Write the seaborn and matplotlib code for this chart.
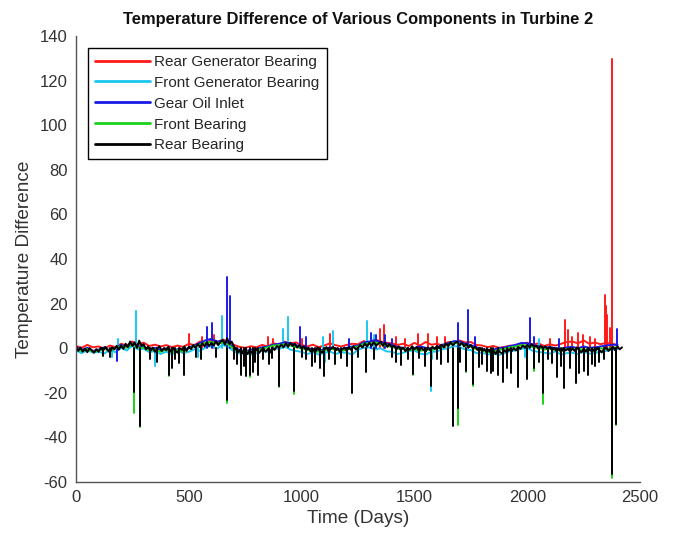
import matplotlib
matplotlib.use('Agg')
import matplotlib.pyplot as plt
from matplotlib.lines import Line2D
import numpy as np
import pandas as pd
import seaborn as sns

components = ['Rear Generator Bearing', 'Front Generator Bearing', 'Gear Oil Inlet',
              'Front Bearing', 'Rear Bearing']
line_colors = ['#ff1a1a', '#19c8f0', '#1a1ae6', '#19d219', '#000000']

# baseline readings: every 25 days for the coloured lines, every 10 days for the rear bearing
coarse_days = np.arange(0, 2401, 25)
fine_days = np.arange(0, 2421, 10)

rear_gen_base = [1.0, 0.2, 1.5, 0.4, 0.8, -0.2, 1.2, 0.5,
                 2.0, 1.2, 3.0, 1.8, 2.5, 1.0, 1.6, 0.8,
                 1.4, 0.5, 1.2, 0.6, 2.0, 1.4, 3.0, 2.0,
                 3.8, 2.5, 4.0, 2.8, 1.5, 0.6, 0.2, 0.9,
                 0.4, 1.5, 0.8, 2.2, 1.6, 3.0, 2.2, 2.6,
                 1.5, 0.8, 1.6, 0.5, 1.2, 2.2, 1.4, 0.8,
                 1.5, 2.0, 1.8, 3.2, 2.5, 4.0, 3.0, 2.5,
                 2.2, 1.5, 2.0, 1.0, 2.4, 1.2, 2.8, 1.6,
                 2.0, 1.2, 2.8, 2.0, 3.5, 2.6, 2.8, 1.5,
                 1.2, 0.5, 1.0, 0.2, 0.6, 1.2, 0.8, 2.0,
                 2.5, 1.6, 2.2, 1.0, 1.8, 1.2, 2.0, 2.8,
                 3.0, 2.2, 3.5, 2.0, 2.6, 1.8, 2.4, 2.0,
                 1.5]
front_gen_base = [-1.0, -2.2, -0.8, -2.0, -1.5, -2.4, -0.6, -1.8,
                  0.2, -1.0, 1.2, -0.5, -0.2, -1.8, -1.2, -2.6,
                  -1.5, -2.8, -1.2, -2.2, -1.6, -0.4, -1.2, 0.4,
                  1.0, -0.2, 1.6, 0.5, -1.4, -2.4, -1.8, -3.0,
                  -2.2, -1.0, -1.6, 0.2, -0.4, 0.8, -0.6, -1.2,
                  -1.6, -2.6, -1.8, -2.8, -2.2, -1.4, -2.6, -1.8,
                  -2.0, -2.8, -0.6, 0.2, 0.4, -0.6, 0.0, -1.4,
                  -1.6, -2.6, -2.0, -1.2, -1.0, -2.4, -2.8, -1.6,
                  -1.4, -0.4, 0.0, 1.0, 0.6, -0.6, -0.8, -2.2,
                  -2.0, -2.8, -2.4, -3.0, -2.2, -1.2, -1.0, -0.2,
                  0.2, -1.2, -1.6, -2.0, -2.4, -1.4, -2.8, -2.2,
                  -2.0, -2.6, -1.6, -2.4, -2.2, -1.4, -1.2, -0.6,
                  -0.5]
gear_oil_base = [0.6, -0.8, 0.2, -1.2, -0.6, 0.4, -1.0, 0.2,
                 1.5, 0.6, 2.2, 1.0, 0.6, -0.4, 0.2, -0.8,
                 0.0, -1.2, -0.4, -1.4, 0.4, 1.2, 2.4, 3.6,
                 4.2, 3.0, 3.4, 2.0, 0.5, -0.8, -1.4, -0.6,
                 -0.4, 0.4, 0.8, 1.6, 2.0, 2.6, 2.2, 1.4,
                 0.8, 0.0, -0.4, -1.0, -0.5, 0.4, 0.0, -0.6,
                 0.2, 0.8, 1.2, 2.6, 3.0, 3.6, 2.8, 2.2,
                 1.4, 0.6, 0.2, -0.4, 0.0, 0.8, 0.2, -0.2,
                 0.4, 1.6, 2.2, 3.2, 3.0, 2.0, 1.4, 0.4,
                 -0.4, -1.0, -0.6, 0.0, 0.4, 1.0, 1.6, 2.4,
                 2.2, 1.2, 1.0, 0.2, 0.6, 0.0, -0.4, 0.4,
                 0.6, 0.0, 0.8, 0.2, 0.4, 0.8, 1.2, 1.6,
                 1.5]
front_brg_base = [0.0, -1.4, -0.4, -1.6, -1.0, -0.2, -1.2, 0.0,
                  1.0, 0.2, 1.8, 0.4, 0.2, -1.0, -0.6, -1.6,
                  -0.6, -1.8, -0.8, -1.6, 0.0, 0.8, 1.6, 2.4,
                  2.8, 2.0, 2.6, 1.6, -0.4, -1.6, -1.2, -2.0,
                  -1.0, -0.2, 0.4, 1.2, 1.4, 1.8, 1.2, 0.6,
                  0.0, -0.8, -1.2, -1.6, -1.0, -0.2, -0.6, -1.2,
                  -0.6, 0.4, 0.8, 2.0, 2.2, 2.6, 2.0, 1.2,
                  0.6, -0.2, 0.0, -0.8, -0.4, -1.2, -0.6, -0.8,
                  -0.2, 0.8, 1.4, 2.4, 2.0, 1.2, 0.6, -0.4,
                  -1.0, -1.8, -1.4, -0.8, -0.2, 0.4, 0.8, 1.4,
                  1.2, 0.4, 0.2, -0.6, -0.2, -0.8, -1.0, -0.4,
                  -0.6, -0.2, -0.8, -0.4, -0.8, 0.0, -0.4, 0.2,
                  0.5]
rear_brg_base = [0.8, -1.2, 0.3, -1.5, -0.2, -1.8, 0.1, -1.0, -2.0, -0.4,
                 -1.6, 0.2, -1.1, 0.6, -0.8, -1.9, 0.4, -0.5, 1.0, -0.6,
                 1.2, -0.3, 2.0, 0.5, 3.0, 1.0, 2.6, 0.2, 3.4, 1.1,
                 1.8, -0.5, 0.8, -1.2, 0.3, -1.6, -0.2, 0.9, -1.3, 0.1,
                 -0.9, 0.7, -1.5, 0.2, -1.1, -2.0, 0.0, -0.7, 0.8, -1.2,
                 0.6, -0.4, 1.4, 0.2, 1.9, 0.4, 2.2, 0.8, 2.7, 1.0,
                 2.4, 1.2, 3.2, 1.4, 2.8, 3.8, 1.6, 4.5, 2.0, 3.0,
                 0.8, -0.6, -1.8, -0.4, -2.4, -1.0, -2.6, -0.8, -2.1, -1.4,
                 -0.3, -2.2, -1.0, 0.2, -1.6, -0.4, -2.0, 0.3, -0.8, 1.0,
                 0.2, 1.6, 0.4, 2.2, 0.6, 2.5, 1.0, 2.0, 0.3, 1.4,
                 -0.2, 0.9, -1.0, 0.2, -1.4, -0.3, -1.8, 0.4, -0.9, -2.0,
                 -0.6, 0.5, -1.5, -0.2, 0.6, -1.1, 0.1, -1.7, -0.4, 0.3,
                 -1.2, 0.4, -0.8, 0.9, -0.5, 0.2, 1.4, 0.3, 2.1, 0.8,
                 2.4, 1.0, 2.8, 1.2, 2.0, 3.0, 1.1, 2.5, 0.6, 1.8,
                 0.4, 1.2, -0.5, 0.8, -0.9, 0.3, -1.3, 0.1, -0.6, 0.9,
                 -0.4, 0.6, -1.2, 0.2, -0.7, -1.5, 0.3, -0.9, 0.7, -0.3,
                 1.0, 0.0, 1.6, 0.4, 2.2, 0.9, 2.8, 1.3, 2.4, 3.0,
                 1.2, 2.6, 0.8, 2.0, 0.4, 1.4, -0.2, 0.8, -0.8, 0.2,
                 -1.4, -0.3, -1.9, -0.6, -2.3, -1.0, -2.6, -0.7, -1.8, -2.4,
                 -0.9, -1.9, -0.4, -1.5, 0.1, -1.0, 0.6, -0.3, 1.2, 0.2,
                 1.5, 0.4, 1.9, 0.6, 1.2, -0.2, 1.0, 0.1, 0.8, -0.4,
                 0.5, -0.8, 0.2, -1.3, -0.3, -1.7, 0.1, -1.0, -0.2, -1.5,
                 0.0, -1.2, 0.4, -0.9, -1.8, -0.3, -1.4, 0.2, -1.1, -0.5,
                 -1.6, 0.1, -0.8, -1.9, -0.4, 0.3, -1.2, -0.2, 0.6, -0.9,
                 0.8, -0.5, 0.4]

# single-day excursions (day, difference)
rear_gen_spike_days = [500, 560, 610, 850, 873, 1000, 1126, 1346, 1365, 1420, 1460, 1514, 1562,
                       1600, 1637, 2100, 2167, 2180, 2200, 2225, 2249, 2280, 2300,
                       2345, 2350, 2355, 2365, 2377]
rear_gen_spike_vals = [6.6, 5.0, 6.0, 5.0, 4.0, 4.0, 6.5, 8.8, 10.3, 5.0, 4.0, 6.6, 6.3,
                       5.0, 5.0, 4.0, 12.5, 8.0, 5.0, 7.0, 6.0, 5.0, 4.0,
                       24.0, 19.0, 15.0, 9.0, 129.5]
front_gen_spike_days = [160, 185, 264, 350, 540, 646, 918, 940, 1095, 1105, 1140, 1288, 1320,
                        1574, 1580, 1990, 2050]
front_gen_spike_vals = [-4.0, 4.0, 16.6, -8.0, -4.0, 14.3, 8.5, 14.0, 5.0, -6.0, 7.8, 12.0, 6.0,
                        -19.0, -5.0, -4.0, 4.0]
gear_oil_spike_days = [180, 579, 601, 668, 684, 993, 1020, 1210, 1307, 1330, 1370, 1400, 1694,
                       1736, 1770, 2012, 2030, 2140, 2374, 2400]
gear_oil_spike_vals = [-5.7, 9.4, 11.3, 32.0, 23.3, 9.4, 5.0, 4.0, 7.0, 6.0, 6.0, 4.0, 11.4,
                       17.0, 5.0, 13.5, 5.0, 4.0, -55.0, 8.8]
front_brg_spike_days = [258, 284, 412, 669, 769, 900, 966, 1494, 1692, 1727, 1758, 2032, 2069,
                        2374, 2394]
front_brg_spike_vals = [-29.0, -35.5, -12.5, -24.7, -13.0, -17.5, -20.6, -12.2, -34.2, -10.6, -17.0,
                        -10.0, -25.0, -58.0, -34.5]
rear_brg_spike_days = [120, 150, 258, 284, 330, 360, 412, 425, 440, 455, 478, 530, 555, 620, 669,
                       700, 715, 733, 745, 752, 769, 784, 795, 808, 830, 855, 870, 900, 966, 1000,
                       1020, 1044, 1060, 1080, 1100, 1120, 1150, 1175, 1201, 1224, 1250, 1285, 1320,
                       1400, 1420, 1440, 1470, 1494, 1520, 1548, 1574, 1600, 1620, 1650, 1673, 1692,
                       1700, 1727, 1758, 1785, 1800, 1820, 1840, 1850, 1870, 1894, 1910, 1930, 1961,
                       1998, 2032, 2050, 2069, 2090, 2110, 2131, 2150, 2165, 2190, 2215, 2230, 2250,
                       2268, 2285, 2301, 2320, 2340, 2374, 2394]
rear_brg_spike_vals = [-3.5, -4.0, -19.6, -34.8, -5.0, -6.0, -12.0, -9.0, -5.0, -6.5, -12.0, -4.0,
                       -5.0, -4.0, -23.0, -5.0, -7.0, -12.0, -8.0, -12.5, -12.0, -10.5, -6.0, -12.0,
                       -5.0, -7.0, -4.5, -17.0, -19.0, -4.0, -5.0, -8.0, -6.0, -9.0, -12.6, -5.0,
                       -7.0, -4.5, -8.0, -20.0, -4.0, -10.6, -5.0, -4.0, -6.0, -7.5, -5.0, -11.5,
                       -4.5, -8.0, -17.0, -5.0, -7.0, -6.0, -34.8, -27.0, -6.0, -10.0, -16.0, -8.5,
                       -7.0, -10.0, -11.0, -10.0, -12.0, -15.0, -9.0, -11.0, -17.3, -14.0, -9.0,
                       -6.0, -20.0, -5.0, -6.5, -12.9, -8.0, -18.0, -9.0, -15.5, -11.0, -10.0,
                       -12.0, -7.0, -8.0, -6.0, -5.0, -56.5, -34.0]


def build_series(days, base, spike_days, spike_vals, name):
    # trace 0 is the daily band, every excursion is its own trace rising from zero
    parts = [pd.DataFrame({'Day': days, 'Delta': base, 'Trace': 0})]
    for i, (d, v) in enumerate(zip(spike_days, spike_vals)):
        parts.append(pd.DataFrame({'Day': [d, d], 'Delta': [0.0, v], 'Trace': i + 1}))
    out = pd.concat(parts, ignore_index=True)
    out['Component'] = name
    return out


df = pd.concat([
    build_series(coarse_days, rear_gen_base, rear_gen_spike_days, rear_gen_spike_vals, components[0]),
    build_series(coarse_days, front_gen_base, front_gen_spike_days, front_gen_spike_vals, components[1]),
    build_series(coarse_days, gear_oil_base, gear_oil_spike_days, gear_oil_spike_vals, components[2]),
    build_series(coarse_days, front_brg_base, front_brg_spike_days, front_brg_spike_vals, components[3]),
    build_series(fine_days, rear_brg_base, rear_brg_spike_days, rear_brg_spike_vals, components[4]),
], ignore_index=True)

sns.set_style('white')
plt.rcParams['font.family'] = ['Liberation Sans', 'DejaVu Sans']
plt.rcParams['axes.unicode_minus'] = False

fig = plt.figure(figsize=(6.75, 5.38), dpi=100)
ax = fig.add_axes([0.1126, 0.104, 0.8356, 0.829])

sns.lineplot(data=df, x='Day', y='Delta', hue='Component', hue_order=components,
             palette=dict(zip(components, line_colors)), units='Trace', estimator=None,
             sort=False, linewidth=1.4, legend=False, ax=ax)

ax.set_xlim(0, 2500)
ax.set_ylim(-60, 140)
ax.set_xticks(range(0, 2501, 500))
ax.set_yticks(range(-60, 141, 20))
ax.tick_params(direction='in', length=4, width=0.8, color='#555555', labelcolor='#333333',
               labelsize=12, pad=6)
sns.despine(ax=ax)
for side in ['left', 'bottom']:
    ax.spines[side].set_color('#555555')
    ax.spines[side].set_linewidth(1.0)

ax.set_xlabel('Time (Days)', fontsize=13.7, color='#333333', labelpad=3)
ax.set_ylabel('Temperature Difference', fontsize=13.7, color='#333333', labelpad=5)
ax.set_title('Temperature Difference of Various Components in Turbine 2', fontsize=11.9,
             fontweight='bold', color='#111111', pad=9)

handles = [Line2D([], [], color=c, linewidth=2) for c in line_colors]
ax.legend(handles, components, loc='upper left', bbox_to_anchor=(0.0213, 0.973),
          borderaxespad=0, fancybox=False, framealpha=1, edgecolor='black', fontsize=11,
          handlelength=3.6, handletextpad=0.3, labelspacing=0.45, borderpad=0.45)

fig.savefig('out.png', dpi=100)
